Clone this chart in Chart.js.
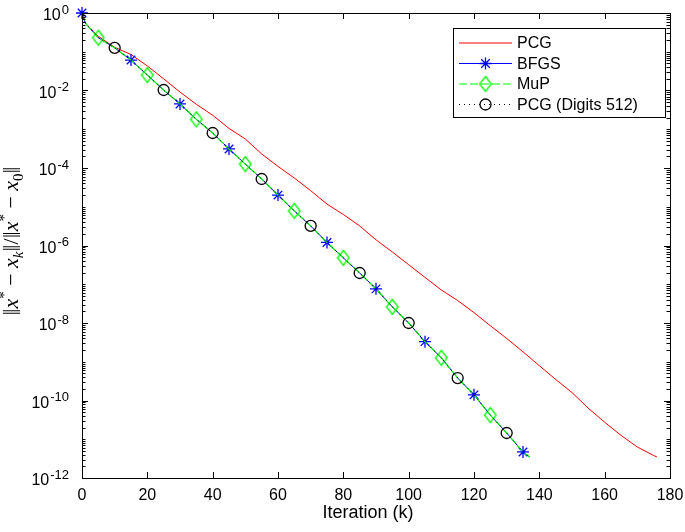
<!DOCTYPE html>
<html>
<head>
<meta charset="utf-8">
<title>Relative error vs iteration</title>
<script src="https://cdn.jsdelivr.net/npm/chart.js@4.4.1/dist/chart.umd.min.js"></script>
<style>
  html, body { margin: 0; padding: 0; background: #fff; }
  #wrap { width: 685px; height: 532px; position: relative; }
</style>
</head>
<body>
<div id="wrap"><canvas id="errChart"></canvas></div>
<script>
// values (every 5 iterations)
const pcgIter = [0, 1, 5, 10, 15, 20, 25, 30, 35, 40, 45, 50, 55, 60, 65, 70, 75, 80, 85, 90,
  95, 100, 105, 110, 115, 120, 125, 130, 135, 140, 145, 150, 155, 160, 165, 170, 175, 176];
const pcgErr = [1, 0.55, 0.25, 0.13, 0.085, 0.043, 0.020, 9.1e-3, 4.4e-3, 2.3e-3, 1.05e-3, 5.6e-4,
  2.3e-4, 1.1e-4, 5.5e-5, 2.6e-5, 1.17e-5, 6.3e-6, 3.2e-6, 1.4e-6, 6.8e-7, 3.2e-7, 1.5e-7, 7.1e-8,
  3.8e-8, 1.85e-8, 8.5e-9, 4.0e-9, 1.8e-9, 7.9e-10, 3.5e-10, 1.6e-10, 6.3e-11, 2.75e-11, 1.26e-11,
  6.3e-12, 3.8e-12, 3.5e-12];

const fastIter = [0, 1, 5, 10, 15, 20, 25, 30, 35, 40, 45, 50, 55, 60, 65, 70, 75, 80, 85, 90,
  95, 100, 105, 110, 115, 120, 125, 130, 135, 137];
const bfgsErr = [1, 0.55, 0.23, 0.126, 0.061, 0.025, 0.0103, 4.5e-3, 1.8e-3, 8e-4, 3.1e-4, 1.26e-4,
  5.2e-5, 2e-5, 7.8e-6, 3.2e-6, 1.2e-6, 4.8e-7, 1.95e-7, 7.6e-8, 2.6e-8, 1.0e-8, 3.3e-9, 1.26e-9,
  3.8e-10, 1.4e-10, 4.2e-11, 1.45e-11, 4.7e-12, 3.5e-12];
// the other two fast methods lie right on top of BFGS
const mupErr = bfgsErr;
const digitsErr = bfgsErr;

const xTicks = [0, 20, 40, 60, 80, 100, 120, 140, 160, 180];
const yTickExps = [0, -2, -4, -6, -8, -10, -12];
const seriesNames = ["PCG", "BFGS", "MuP", "PCG (Digits 512)"];

const SANS = '"Liberation Sans", Arial, Helvetica, sans-serif';
const SERIF = '"Liberation Serif", "Times New Roman", serif';

function pts(xs, ys) {
  return xs.map((x, i) => ({ x: x, y: ys[i] }));
}

// matlab diamond is a bit taller than wide
function makeDiamond(color) {
  const c = document.createElement("canvas");
  c.width = 14;
  c.height = 18;
  const g = c.getContext("2d");
  g.strokeStyle = color;
  g.lineWidth = 1.3;
  g.beginPath();
  g.moveTo(7, 1.5);
  g.lineTo(12.8, 9);
  g.lineTo(7, 16.5);
  g.lineTo(1.2, 9);
  g.closePath();
  g.stroke();
  return c;
}
const diamond = makeDiamond("#00ff00");

// one marker every 15 iterations, shifted per series
function markEvery(offset, r) {
  return (c) => (c.raw && c.raw.x % 15 === offset ? r : 0);
}

function drawMarker(ctx, ds, cx, cy) {
  const st = ds.pointStyle;
  ctx.save();
  ctx.strokeStyle = ds.pointBorderColor;
  ctx.lineWidth = ds.pointBorderWidth;
  ctx.setLineDash([]);
  if (st === "star") {
    const r = 6;
    ctx.beginPath();
    for (let k = 0; k < 4; k++) {
      const a = (k * Math.PI) / 4;
      ctx.moveTo(cx - r * Math.cos(a), cy - r * Math.sin(a));
      ctx.lineTo(cx + r * Math.cos(a), cy + r * Math.sin(a));
    }
    ctx.stroke();
  } else if (st === "circle") {
    ctx.beginPath();
    ctx.arc(cx, cy, 5.5, 0, Math.PI * 2);
    ctx.stroke();
  } else if (st instanceof HTMLCanvasElement) {
    ctx.drawImage(st, cx - st.width / 2, cy - st.height / 2);
  }
  ctx.restore();
}

function drawYTitle(ctx, cx, cy) {
  const big = 22, small = 15;
  const norm = big + "px " + SERIF;
  const bar = "25px " + SERIF;
  const ital = "italic " + big + "px " + SERIF;
  const sm = small + "px " + SERIF;
  const smIt = "italic " + small + "px " + SERIF;
  const pieces = [
    ["\u2016", bar, 2], ["x", ital, 0], ["*", sm, -9], [" \u2212 ", norm, 0],
    ["x", ital, 0], ["k", smIt, 5], ["\u2016", bar, 2], ["/", norm, 0], ["\u2016", bar, 2],
    ["x", ital, 0], ["*", sm, -9], [" \u2212 ", norm, 0],
    ["x", ital, 0], ["0", sm, 5], ["\u2016", bar, 2]
  ];
  ctx.save();
  ctx.translate(cx, cy);
  ctx.rotate(-Math.PI / 2);
  ctx.textAlign = "left";
  ctx.textBaseline = "alphabetic";
  let total = 0;
  const widths = pieces.map((p) => {
    ctx.font = p[1];
    const w = ctx.measureText(p[0]).width;
    total += w;
    return w;
  });
  let pos = -total / 2;
  pieces.forEach((p, i) => {
    ctx.font = p[1];
    ctx.fillText(p[0], pos, p[2]);
    pos += widths[i];
  });
  ctx.restore();
}

const axesDecor = {
  id: "axesDecor",
  afterDraw(chart) {
    const { ctx, chartArea: a } = chart;
    const xs = chart.scales.x, ys = chart.scales.y;
    ctx.save();
    ctx.strokeStyle = "#000";
    ctx.fillStyle = "#000";
    ctx.lineWidth = 1;

    // box
    ctx.strokeRect(Math.round(a.left) + 0.5, Math.round(a.top) + 0.5,
      Math.round(a.right - a.left), Math.round(a.bottom - a.top));

    // x ticks, inward top and bottom
    ctx.beginPath();
    xTicks.forEach((v) => {
      const px = Math.round(xs.getPixelForValue(v)) + 0.5;
      ctx.moveTo(px, a.bottom);
      ctx.lineTo(px, a.bottom - 6);
      ctx.moveTo(px, a.top);
      ctx.lineTo(px, a.top + 6);
    });
    // y minor ticks
    for (let d = -12; d < 0; d++) {
      for (let k = 1; k <= 9; k++) {
        if (k === 1 && yTickExps.includes(d)) continue;
        const py = Math.round(ys.getPixelForValue(k * Math.pow(10, d))) + 0.5;
        ctx.moveTo(a.left, py);
        ctx.lineTo(a.left + 3.5, py);
        ctx.moveTo(a.right, py);
        ctx.lineTo(a.right - 3.5, py);
      }
    }
    // y major ticks
    yTickExps.forEach((e) => {
      const py = Math.round(ys.getPixelForValue(Math.pow(10, e))) + 0.5;
      ctx.moveTo(a.left, py);
      ctx.lineTo(a.left + 6, py);
      ctx.moveTo(a.right, py);
      ctx.lineTo(a.right - 6, py);
    });
    ctx.stroke();

    // x tick labels
    ctx.font = "16px " + SANS;
    ctx.textAlign = "center";
    ctx.textBaseline = "alphabetic";
    xTicks.forEach((v) => {
      ctx.fillText(String(v), xs.getPixelForValue(v), a.bottom + 22);
    });

    // y tick labels 10^e
    ctx.textAlign = "left";
    yTickExps.forEach((e) => {
      const py = ys.getPixelForValue(Math.pow(10, e));
      const ex = e === 0 ? "0" : "-" + Math.abs(e);
      ctx.font = "13px " + SANS;
      const ew = ctx.measureText(ex).width;
      ctx.font = "16px " + SANS;
      const bw = ctx.measureText("10").width;
      const right = 69;
      ctx.fillText("10", right - ew - 1 - bw, py + 7);
      ctx.font = "13px " + SANS;
      ctx.fillText(ex, right - ew, py + 0.5);
    });

    // axis titles
    ctx.font = "18px " + SANS;
    ctx.textAlign = "center";
    ctx.fillText("Iteration (k)", 368, a.bottom + 40);
    drawYTitle(ctx, 18, 241);

    // legend
    const lx = 453.5, ly = 28.5, lw = 212, lh = 89;
    ctx.fillStyle = "#fff";
    ctx.fillRect(lx, ly, lw, lh);
    ctx.strokeRect(lx, ly, lw, lh);
    const rows = [43, 63.5, 84, 104.5];
    chart.data.datasets.forEach((ds, i) => {
      const yy = rows[i];
      ctx.save();
      ctx.strokeStyle = ds.borderColor;
      ctx.lineWidth = ds.borderWidth;
      ctx.setLineDash(ds.borderDash || []);
      ctx.beginPath();
      ctx.moveTo(459, yy);
      ctx.lineTo(512, yy);
      ctx.stroke();
      ctx.restore();
      if (ds.pointStyle) drawMarker(ctx, ds, 485.5, yy);
      ctx.fillStyle = "#000";
      ctx.font = "16px " + SANS;
      ctx.textAlign = "left";
      ctx.textBaseline = "middle";
      ctx.fillText(ds.label, 517, yy + 1);
    });
    ctx.restore();
  }
};

const ctx = document.getElementById("errChart").getContext("2d");

new Chart(ctx, {
  type: "line",
  data: {
    datasets: [
      {
        label: seriesNames[0],
        data: pts(pcgIter, pcgErr),
        borderColor: "#ff0000",
        borderWidth: 1,
        pointRadius: 0,
        order: 4,
        clip: false
      },
      {
        label: seriesNames[1],
        data: pts(fastIter, bfgsErr),
        borderColor: "#0000ff",
        borderWidth: 1,
        pointStyle: "star",
        pointRadius: markEvery(0, 6),
        pointBorderColor: "#0000ff",
        pointBorderWidth: 1.3,
        order: 3,
        clip: false
      },
      {
        label: seriesNames[2],
        data: pts(fastIter, mupErr),
        borderColor: "#00ff00",
        borderWidth: 1.2,
        borderDash: [8, 3],
        pointStyle: diamond,
        pointRadius: markEvery(5, 6),
        pointBorderColor: "#00ff00",
        pointBorderWidth: 1.3,
        order: 2,
        clip: false
      },
      {
        label: seriesNames[3],
        data: pts(fastIter, digitsErr),
        borderColor: "#000000",
        borderWidth: 1,
        borderDash: [1, 4],
        pointStyle: "circle",
        pointRadius: markEvery(10, 5.5),
        pointBackgroundColor: "rgba(0,0,0,0)",
        pointBorderColor: "#000000",
        pointBorderWidth: 1.3,
        order: 1,
        clip: false
      }
    ]
  },
  options: {
    responsive: true,
    maintainAspectRatio: false,
    animation: false,
    layout: { padding: { left: 82, top: 13, right: 15, bottom: 54 } },
    scales: {
      x: { type: "linear", min: 0, max: 180, display: false },
      y: { type: "logarithmic", min: 1e-12, max: 1, display: false }
    },
    plugins: {
      legend: { display: false },
      tooltip: { enabled: false }
    },
    elements: { line: { tension: 0 } }
  },
  plugins: [axesDecor]
});
</script>
</body>
</html>
